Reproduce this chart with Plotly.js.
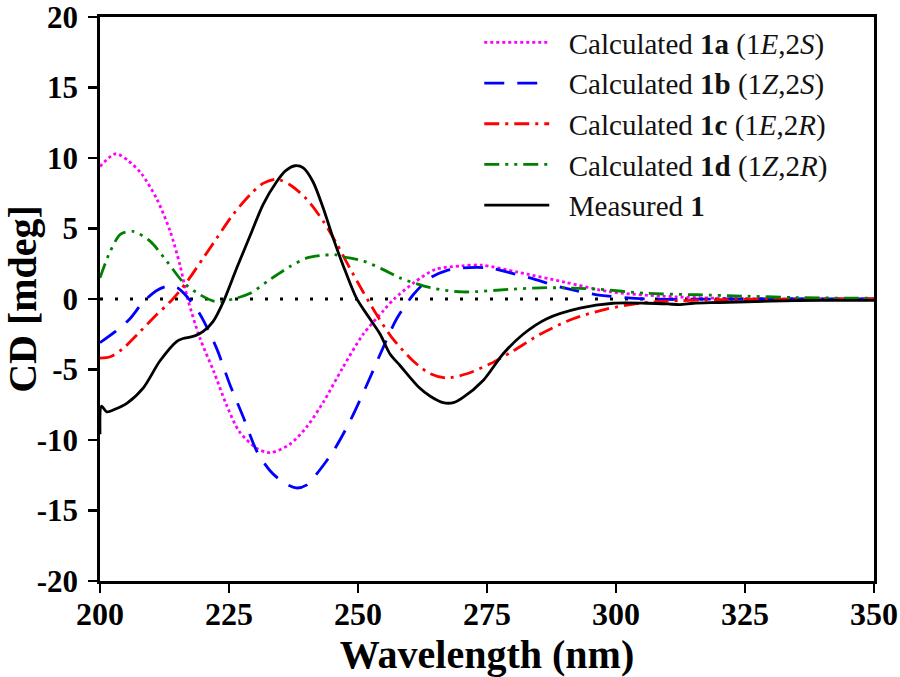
<!DOCTYPE html>
<html>
<head>
<meta charset="utf-8">
<script src="https://cdn.plot.ly/plotly-3.0.1.min.js"></script>
<style>
  html, body { margin: 0; padding: 0; background: #fff; }
  #chart { width: 900px; height: 677px; }
</style>
</head>
<body>
<div id="chart"></div>
<script>
// wavelength (nm) and CD (mdeg)
var x1a = [200, 203, 205.5, 208, 211, 213.6, 215.5, 217, 219.4, 222, 224.5, 227, 230.4, 233, 236.8, 240, 243.3, 247, 251, 255, 257, 261, 265, 270, 274, 281, 290, 299, 309, 320, 335, 350];
var y1a = [9.4, 10.3, 9.8, 8.9, 7.1, 4.8, 2.4, 0, -2.8, -5.1, -7.5, -9.4, -10.6, -10.9, -10.3, -9.1, -7.3, -4.9, -2.5, -0.8, 0.0, 1.2, 2.1, 2.35, 2.4, 1.9, 1.2, 0.5, 0.2, 0.05, 0, 0];

var x1b = [200, 203, 205.8, 208.4, 211, 213, 215, 217, 219.4, 222.6, 225.2, 227.8, 230.4, 233, 235.5, 238, 240, 242, 245.2, 248.4, 251.7, 254.8, 257.5, 260.7, 264, 267, 270.3, 275.6, 279, 283.3, 289.7, 296.3, 306, 320, 350];
var y1b = [-3.1, -2.3, -1.4, -0.2, 0.6, 0.9, 0.8, 0.1, -1.1, -3.5, -6.1, -8.4, -10.8, -12.2, -13.0, -13.4, -13.2, -12.4, -10.8, -8.7, -6.1, -3.5, -1.4, 0.3, 1.5, 2.0, 2.2, 2.2, 1.9, 1.5, 0.8, 0.3, 0, 0, 0];

var x1c = [200, 202, 204.5, 207.8, 211, 213.6, 216.8, 220, 222.6, 225.8, 229.1, 231.6, 234.2, 236.8, 240, 243.3, 245.9, 248.4, 251, 253.6, 256.5, 260.7, 264, 267.2, 271.1, 275.6, 280, 285.3, 291.7, 298.3, 304.7, 310, 320, 335, 350];
var y1c = [-4.2, -4.1, -3.5, -2.3, -1.1, -0.2, 1.2, 2.9, 4.3, 6.0, 7.4, 8.2, 8.5, 8.1, 7.1, 5.5, 3.9, 2.2, 0.5, -1.1, -2.7, -4.4, -5.3, -5.6, -5.3, -4.6, -3.7, -2.5, -1.4, -0.7, -0.3, -0.15, -0.05, 0, 0];

var x1d = [200, 202, 204, 206.4, 209.7, 212.9, 216.1, 219.4, 222.6, 225.8, 229.1, 233, 236.8, 240, 243.3, 245.5, 247.1, 251, 254.8, 258.1, 264, 270.3, 280, 286.6, 296.3, 306, 315.7, 325.4, 335, 350];
var y1d = [1.5, 3.4, 4.6, 4.8, 4.1, 2.7, 1.2, 0.3, -0.2, 0, 0.4, 1.4, 2.3, 2.9, 3.1, 3.15, 3.0, 2.7, 2.1, 1.5, 0.8, 0.5, 0.7, 0.8, 0.7, 0.4, 0.3, 0.2, 0.1, 0.05];

var xMeas = [200, 200.3, 201.3, 203, 205.2, 208.4, 211.6, 214.9, 216.1, 217.4, 218.5, 220, 221.9, 223.9, 226.5, 229.1, 231.6, 234.2, 236, 237.8, 239.4, 241.3, 243.3, 245.2, 247.1, 249.7, 252.3, 254.3, 256.2, 258.1, 261.9, 264, 266.5, 268.5, 270.3, 274.2, 278.1, 282, 286.6, 293, 299.4, 306, 310, 312.4, 315, 320, 330, 340, 350];
var yMeas = [-9.6, -7.6, -8.0, -7.8, -7.4, -6.3, -4.4, -3.0, -2.8, -2.7, -2.6, -2.3, -1.6, -0.2, 2.2, 4.5, 6.7, 8.3, 9.1, 9.45, 9.3, 8.3, 6.4, 4.3, 2.4, 0.06, -1.4, -2.5, -3.9, -4.7, -6.3, -6.9, -7.35, -7.35, -7.0, -5.8, -3.9, -2.5, -1.4, -0.65, -0.3, -0.3, -0.35, -0.4, -0.3, -0.25, -0.15, -0.1, -0.1];

var baseX = [200, 350];
var baseY = [0, 0];

var xTicks = [200, 225, 250, 275, 300, 325, 350];
var yTicks = [-20, -15, -10, -5, 0, 5, 10, 15, 20];
var yTickText = ['-20', '-15', '-10', '-5', '0', '5', '10', '15', '20'];

var names = [
  '&nbsp;&nbsp;Calculated <b>1a</b> (1<i>E</i>,2<i>S</i>)',
  '&nbsp;&nbsp;Calculated <b>1b</b> (1<i>Z</i>,2<i>S</i>)',
  '&nbsp;&nbsp;Calculated <b>1c</b> (1<i>E</i>,2<i>R</i>)',
  '&nbsp;&nbsp;Calculated <b>1d</b> (1<i>Z</i>,2<i>R</i>)',
  '&nbsp;&nbsp;Measured <b>1</b>'
];

var serif = 'Liberation Serif, Times New Roman, serif';

function line(x, y, name, color, dash) {
  return {
    x: x, y: y, name: name,
    type: 'scatter', mode: 'lines',
    line: { color: color, width: 2.8, dash: dash, shape: 'spline', smoothing: 0.8 }
  };
}

var data = [
  { x: baseX, y: baseY, type: 'scatter', mode: 'lines', showlegend: false, hoverinfo: 'skip',
    line: { color: '#000', width: 2.8, dash: '3px,12px' } },
  line(x1a, y1a, names[0], '#ff00ff', '3px,3px'),
  line(x1b, y1b, names[1], '#0000ff', '20px,13px'),
  line(x1c, y1c, names[2], '#ff0000', '15px,6px,3px,6px'),
  line(x1d, y1d, names[3], '#008000', '15px,6px,3px,6px,3px,6px'),
  line(xMeas, yMeas, names[4], '#000000', 'solid')
];

var layout = {
  width: 900, height: 677,
  margin: { l: 100, r: 26, t: 17, b: 96 },
  paper_bgcolor: '#fff', plot_bgcolor: '#fff',
  font: { family: serif, color: '#000' },
  showlegend: true,
  legend: {
    x: 0.49, y: 1.0, xanchor: 'left', yanchor: 'top',
    bgcolor: 'rgba(0,0,0,0)', borderwidth: 0,
    font: { family: serif, size: 29, color: '#111' },
    itemwidth: 65
  },
  xaxis: {
    range: [200, 350], tickmode: 'array', tickvals: xTicks,
    showgrid: false, zeroline: false, showline: true, linewidth: 2.8, linecolor: '#000', mirror: true,
    ticks: 'outside', ticklen: 9, tickwidth: 2.8, tickcolor: '#000',
    ticklabelstandoff: -6, ticklabeloverflow: 'allow',
    tickfont: { family: serif, size: 32, weight: 'bold' },
    title: { text: 'Wavelength (nm)', font: { family: serif, size: 40, weight: 'bold' }, standoff: 0 }
  },
  yaxis: {
    range: [-20, 20], tickmode: 'array', tickvals: yTicks, ticktext: yTickText,
    showgrid: false, zeroline: false, showline: true, linewidth: 2.8, linecolor: '#000', mirror: true,
    ticks: 'outside', ticklen: 9, tickwidth: 2.8, tickcolor: '#000',
    ticklabelstandoff: 4, ticklabeloverflow: 'allow',
    tickfont: { family: serif, size: 31, weight: 'bold' },
    title: { text: 'CD [mdeg]', font: { family: serif, size: 40, weight: 'bold' }, standoff: 0 }
  }
};

Plotly.newPlot('chart', data, layout, { displayModeBar: false, staticPlot: true });
</script>
</body>
</html>
